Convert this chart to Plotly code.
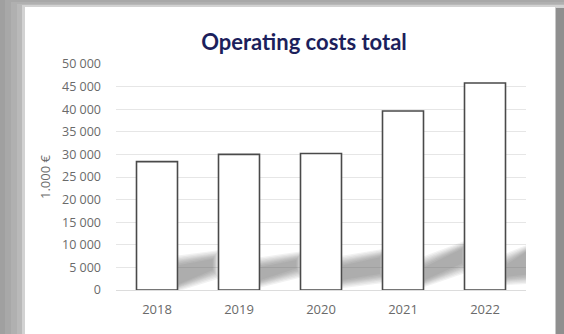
import plotly.graph_objects as go

# Operating costs, thousand euro
years = ["2018", "2019", "2020", "2021", "2022"]
costs = [28400, 30000, 30200, 39600, 45800]
tick_values = [0, 5000, 10000, 15000, 20000, 25000, 30000, 35000, 40000, 45000, 50000]
tick_labels = ["0", "5 000", "10 000", "15 000", "20 000", "25 000",
               "30 000", "35 000", "40 000", "45 000", "50 000"]

W, H = 564, 334
ML, MR, MT, MB = 116, 38, 64, 44
PW, PH = W - ML - MR, H - MT - MB


def px(x):
    # page pixel -> paper x
    return (x - ML) / PW


def py(y):
    # page pixel -> paper y
    return (H - MB - y) / PH


fig = go.Figure()
fig.add_trace(go.Bar(
    x=years, y=costs,
    marker=dict(color="white", line=dict(color="#4a4a4a", width=1.6)),
    width=0.5,
    hoverinfo="x+y",
))

shapes = []

# grey bevelled frame around the white card
frame_bands = [
    (0, 0, W, H, "#a0a0a0"),
    (5, 0, W, H, "#a8a8a8"),
    (11, 2, W, H, "#b0b0b0"),
    (17, 4, W, H, "#b9b9b9"),
    (22, 5, W, H, "#d2d2d2"),
]
for x0, y0, x1, y1, c in frame_bands:
    shapes.append(dict(type="rect", xref="paper", yref="paper", layer="below",
                       x0=px(x0), x1=px(x1), y0=py(y1), y1=py(y0),
                       fillcolor=c, line=dict(width=0)))
# darker right edge
shapes.append(dict(type="rect", xref="paper", yref="paper", layer="below",
                   x0=px(553), x1=px(W), y0=py(H), y1=py(8),
                   fillcolor="#c8c8c8", line=dict(width=0)))
shapes.append(dict(type="rect", xref="paper", yref="paper", layer="below",
                   x0=px(556), x1=px(W), y0=py(H), y1=py(8),
                   fillcolor="#8f8f8f", line=dict(width=0)))
shapes.append(dict(type="rect", xref="paper", yref="paper", layer="below",
                   x0=px(25), x1=px(555), y0=py(H), y1=py(7),
                   fillcolor="white", line=dict(width=0)))

# soft grey shadows cast to the right of each bar:
# (left x, right x, bottom-left, top-left, bottom-right, top-right)
shadows = [
    (0.25, 0.70, 800, 6100, 3900, 7400),
    (1.25, 1.72, 1700, 5700, 4200, 7200),
    (2.25, 2.74, 1700, 6000, 3000, 7800),
    (3.25, 3.74, 1700, 5700, 5300, 9700),
    (4.25, 4.52, 2400, 6300, 2800, 9000),
]
# stacked translucent layers, widest first, give a blurred edge
layers = [(1400, 0.05), (1100, 0.04), (800, 0.03), (550, 0.02), (300, 0.01),
          (50, 0.0), (-250, -0.01), (-550, -0.02)]
for x0, x1, bl, tl, br, tr in shadows:
    for dy, dx in layers:
        path = (f"M {x0 - dx},{bl - dy} L {x0 - dx},{tl + dy} "
                f"L {x1 + dx},{tr + dy} L {x1 + dx},{br - dy} Z")
        shapes.append(dict(type="path", xref="x", yref="y", path=path, layer="between",
                           fillcolor="rgba(95,95,95,0.08)", line=dict(width=0)))

fig.update_layout(
    width=W, height=H,
    margin=dict(l=ML, r=MR, t=MT, b=MB),
    paper_bgcolor="#a0a0a0",
    plot_bgcolor="rgba(0,0,0,0)",
    showlegend=False,
    bargap=0.5,
    shapes=shapes,
    title=dict(text="<b>Operating costs total</b>", x=(304 - ML) / PW, xref="paper",
               xanchor="center", y=1 - 42 / H, yanchor="middle",
               font=dict(family="Lato", size=22, color="#1c1f5c")),
    font=dict(family="Open Sans", color="#6a6a6a"),
    xaxis=dict(showgrid=False, zeroline=False, showline=False,
               tickfont=dict(size=13, color="#6a6a6a"), ticks="",
               ticklabelstandoff=10, range=[-0.5, 4.5]),
    yaxis=dict(range=[0, 50000], tickvals=tick_values, ticktext=tick_labels,
               showgrid=True, gridcolor="#e6e6e6", gridwidth=1,
               zeroline=True, zerolinecolor="#dcdcdc", zerolinewidth=1,
               showline=False, ticks="", ticklabelstandoff=14,
               tickfont=dict(size=12.5, color="#6a6a6a"),
               title=dict(text="1.000 €", standoff=8,
                          font=dict(size=13, color="#6a6a6a"))),
)

fig.write_html("out.html")
